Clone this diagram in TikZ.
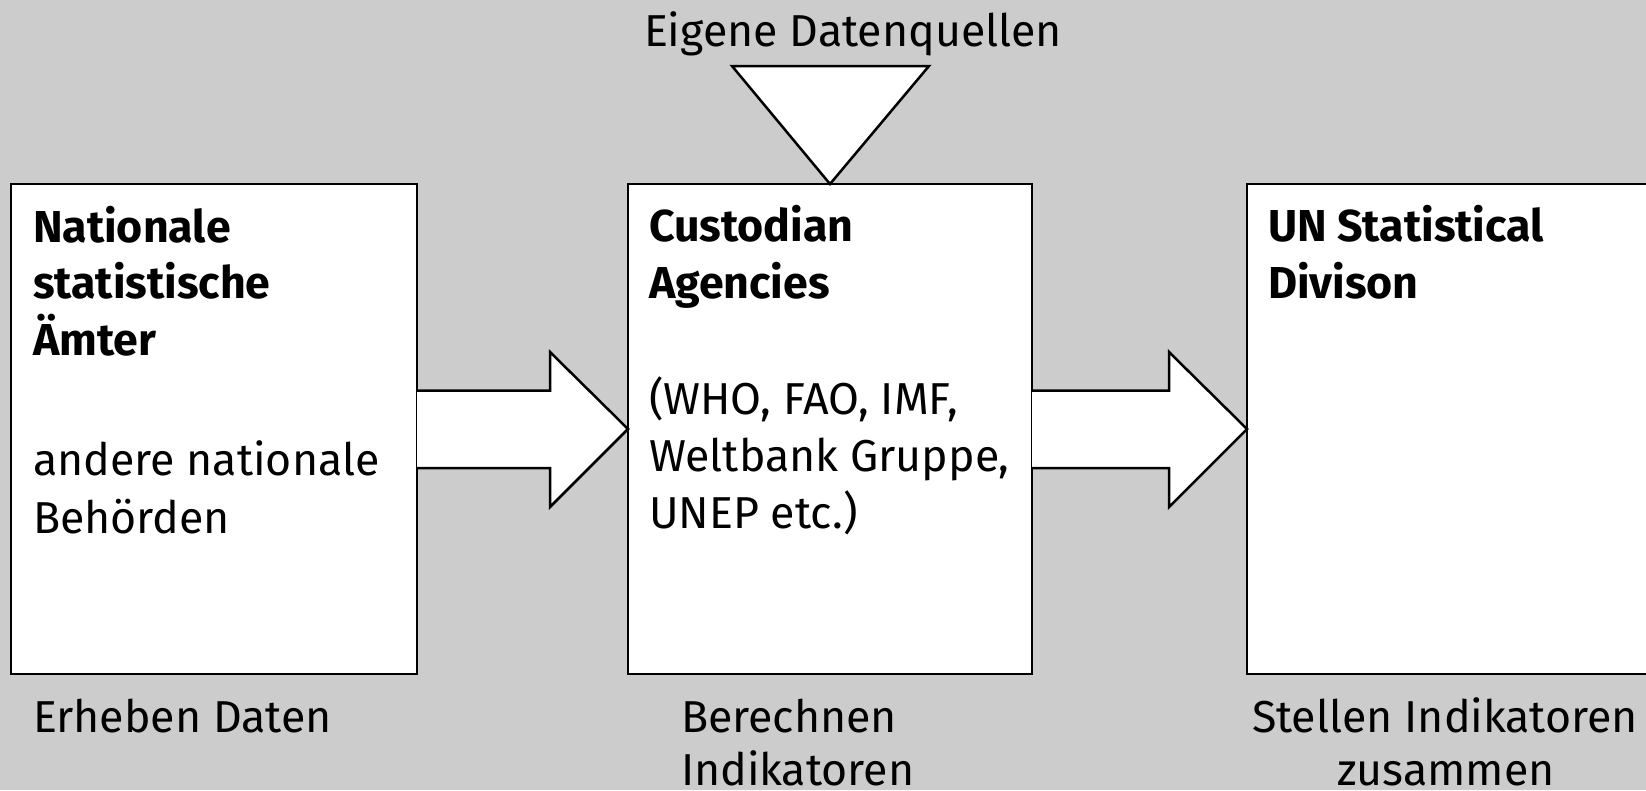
\documentclass[tikz,border=0pt]{standalone}
\usepackage{fontspec}
\usetikzlibrary{calc}
\setmainfont{Fira Sans}
\definecolor{bggray}{RGB}{204,204,204}
\begin{document}
\begin{tikzpicture}[x=1pt,y=-1pt,
  box/.style={draw=black,fill=white,line width=2.5pt,rectangle,inner sep=0pt,outer sep=0pt,anchor=north west},
  flow/.style={draw=black,fill=white,line width=2.5pt,line join=miter},
  txt/.style={inner sep=0pt,outer sep=0pt,anchor=base west,font=\fontsize{44.7}{54}\selectfont},
  btxt/.style={txt,font=\fontsize{44.7}{54}\selectfont\bfseries},
  ctxt/.style={txt,anchor=base}]
\fill[bggray] (0,0) rectangle (1646,790);
\useasboundingbox (0,0) rectangle (1646,790);
\clip (0,0) rectangle (1646,790);
% boxes
\node[box,minimum width=406pt,minimum height=490pt] (L) at (11,184) {};
\node[box,minimum width=404pt,minimum height=490pt] (M) at (628,184) {};
\node[box,minimum width=500pt,minimum height=490pt] (R) at (1247,184) {};
% arrows
\draw[flow] ($(L.east)+(0,-38.5)$) -- ($(M.west)+(-78,-38.5)$) -- ($(M.west)+(-78,-77)$) -- (M.west)
  -- ($(M.west)+(-78,78)$) -- ($(M.west)+(-78,39)$) -- ($(L.east)+(0,39)$);
\draw[flow] ($(M.east)+(0,-38.5)$) -- ($(R.west)+(-78,-38.5)$) -- ($(R.west)+(-78,-77)$) -- (R.west)
  -- ($(R.west)+(-78,78)$) -- ($(R.west)+(-78,39)$) -- ($(M.east)+(0,39)$);
% triangle
\coordinate (T1) at (732,66);
\coordinate (T2) at (929,66);
\draw[flow] (T1) -- (T2) -- (M.north) -- cycle;
\node[txt] (src) at (644,46) {Eigene Datenquellen};
% left box text
\node[btxt] (l1) at (33,242) {Nationale};
\node[btxt] (l2) at (33,298) {statistische};
\node[btxt] (l3) at (33,355) {Ämter};
\node[txt] (l4) at (33,475) {andere nationale};
\node[txt] (l5) at (33,533) {Behörden};
% middle box text
\node[btxt] (m1) at (649,241) {Custodian};
\node[btxt] (m2) at (649,298) {Agencies};
\node[txt] (m3) at (649,414) {(WHO, FAO, IMF,};
\node[txt] (m4) at (649,471) {Weltbank Gruppe,};
\node[txt] (m5) at (649,528) {UNEP etc.)};
% right box text
\node[btxt] (r1) at (1268,241) {UN Statistical};
\node[btxt] (r2) at (1268,298) {Divison};
% captions
\node[txt] (c1) at (33,732) {Erheben Daten};
\node[txt] (c2) at (681,732) {Berechnen};
\node[txt] (c3) at (681,785) {Indikatoren};
\node[ctxt] (c4) at (1445,732) {Stellen Indikatoren};
\node[ctxt] (c5) at (1446,785) {zusammen};
\end{tikzpicture}
\end{document}
